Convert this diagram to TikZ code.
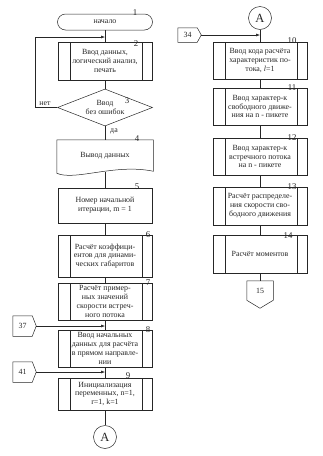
\documentclass[tikz,border=0pt]{standalone}
\usepackage{fontspec}
\setmainfont{Liberation Serif}
\usetikzlibrary{shapes.geometric,arrows.meta,calc}
\begin{document}
\begin{tikzpicture}[x=1pt,y=-1pt,
  line width=0.5pt, draw=black!85,
  every node/.style={font=\fontsize{7.9}{8.9}\selectfont, align=center, inner sep=0pt, text=black!85},
  proc/.style={draw, minimum width=94pt},
  subproc/.style={proc, path picture={
      \draw[line width=0.5pt] ([xshift=12pt]path picture bounding box.north west) -- ([xshift=12pt]path picture bounding box.south west);
      \draw[line width=0.5pt] ([xshift=-10pt]path picture bounding box.north east) -- ([xshift=-10pt]path picture bounding box.south east);}},
  term/.style={draw, rounded corners=8pt, minimum width=95pt, minimum height=16pt},
  decision/.style={draw, diamond, aspect=2.57, minimum width=95pt, minimum height=37pt},
  conn/.style={draw, circle, minimum size=23pt, font=\fontsize{12.5}{12.5}\selectfont},
  offbox/.style={minimum width=19pt, minimum height=20pt},
  num/.style={font=\fontsize{8.8}{8.8}\selectfont},
  lbl/.style={font=\fontsize{7.9}{7.9}\selectfont},
  arr/.style={-{Latex[length=4pt,width=3pt]}}
]
\useasboundingbox (0,0) rectangle (323,456);

% ---------- left column ----------
\node[term] (b1) at (105,22) {начало};
\node[subproc, minimum height=38pt] (b2) at (105,61) {Ввод данных,\\логический анализ,\\печать};
\node[decision] (d3) at (105,107.5) {Ввод\\без ошибок};
\node[minimum width=96pt, minimum height=32pt] (b4) at (105,156) {Вывод данных};
\draw (b4.south west) -- (b4.north west) -- (b4.north east) -- ($(b4.south east)+(0pt,1pt)$)
      .. controls ($(b4.south east)+(-38pt,9pt)$) and ($(b4.south west)+(18pt,-9pt)$) .. ($(b4.south west)+(0pt,-1pt)$) -- cycle;
\node[proc, minimum height=35pt] (b5) at (105,205.5) {Номер начальной\\итерации, m = 1};
\node[subproc, minimum height=42pt] (b6) at (105,256) {Расчёт коэффици-\\ентов для динами-\\ческих габаритов};
\node[subproc, minimum height=37pt] (b7) at (105,301.5) {Расчёт пример-\\ных значений\\скорости встреч-\\ного потока};
\node[subproc, minimum height=37pt] (b8) at (105,348.5) {Ввод начальных\\данных для расчёта\\в прямом направле-\\нии};
\node[subproc, minimum height=32pt] (b9) at (105,394) {Инициализация\\переменных, n=1,\\r=1, k=1};
\node[conn] (cA) at (105,437) {A};

\draw (b1.south) -- (b2.north);
\draw (b2.south) -- (d3.north);
\draw (d3.south) -- (b4.north);
\draw (b4.south) -- (b5.north);
\draw (b5.south) -- (b6.north);
\draw (b6.south) -- (b7.north);
\draw (b7.south) -- (b8.north);
\draw (b8.south) -- (b9.north);
\draw (b9.south) -- (cA.north);

\coordinate (j1) at (105,37);
\draw[arr] (d3.west) -- ++(-22,0) |- (j1);
\node[lbl] (no) at (45,104) {нет};
\node[lbl] (yes) at (114,131) {да};

% off-page connector 37
\node[offbox] (c37) at (22.5,326) {37};
\coordinate (c37t) at ($(c37.east)+(4pt,0pt)$);
\draw (c37.north west) -- (c37.north east) -- (c37t) -- (c37.south east) -- (c37.south west) -- cycle;
\coordinate (j37) at (105,326);
\draw[arr] (c37t) -- (j37);

% off-page connector 41
\node[offbox] (c41) at (22.5,372) {41};
\coordinate (c41t) at ($(c41.east)+(4pt,0pt)$);
\draw (c41.north west) -- (c41.north east) -- (c41t) -- (c41.south east) -- (c41.south west) -- cycle;
\coordinate (j41) at (105,372);
\draw[arr] (c41t) -- (j41);

% ---------- right column ----------
\node[conn] (cA2) at (260,18) {A};
\node[subproc, minimum height=37pt] (b10) at (260,60.5) {Ввод кода расчёта\\характеристик по-\\тока, \textit{l}=1};
\node[subproc, minimum height=37pt] (b11) at (260,106.5) {Ввод характер-к\\свободного движе-\\ния на n - пикете};
\node[subproc, minimum height=37pt] (b12) at (260,156.5) {Ввод характер-к\\встречного потока\\на n - пикете};
\node[subproc, minimum height=38pt] (b13) at (260,206) {Расчёт распределе-\\ния скорости сво-\\бодного движения};
\node[subproc, minimum height=38pt] (b14) at (260,254) {Расчёт моментов};

% off-page connector 15 (pointing down)
\node[minimum width=26pt, minimum height=19pt] (c15) at (260,290.5) {15};
\coordinate (c15t) at ($(c15.south)+(0pt,-8pt)$);
\draw (c15.south west) -- (c15.north west) -- (c15.north east) -- (c15.south east) -- (c15t) -- cycle;

\draw (cA2.south) -- (b10.north);
\draw (b10.south) -- (b11.north);
\draw (b11.south) -- (b12.north);
\draw (b12.south) -- (b13.north);
\draw (b13.south) -- (b14.north);
\draw (b14.south) -- (c15.north);

% off-page connector 34
\node[minimum width=19pt, minimum height=14pt] (c34) at (187.5,35) {34};
\coordinate (c34t) at ($(c34.east)+(4pt,0pt)$);
\draw (c34.north west) -- (c34.north east) -- (c34t) -- (c34.south east) -- (c34.south west) -- cycle;
\coordinate (j34) at (260,35);
\draw[arr] (c34t) -- (j34);

% ---------- block numbers ----------
\node[num] (n1) at (135,13) {1};
\node[num] (n2) at (136,44) {2};
\node[num] (n3) at (127,101) {3};
\node[num] (n4) at (137,139) {4};
\node[num] (n5) at (137,187) {5};
\node[num] (n6) at (148,235) {6};
\node[num] (n7) at (148,283) {7};
\node[num] (n8) at (148,330) {8};
\node[num] (n9) at (128,376) {9};
\node[num] (n10) at (292,41) {10};
\node[num] (n11) at (292,88) {11};
\node[num] (n12) at (292,138) {12};
\node[num] (n13) at (292,187) {13};
\node[num] (n14) at (288,236) {14};
\end{tikzpicture}
\end{document}
